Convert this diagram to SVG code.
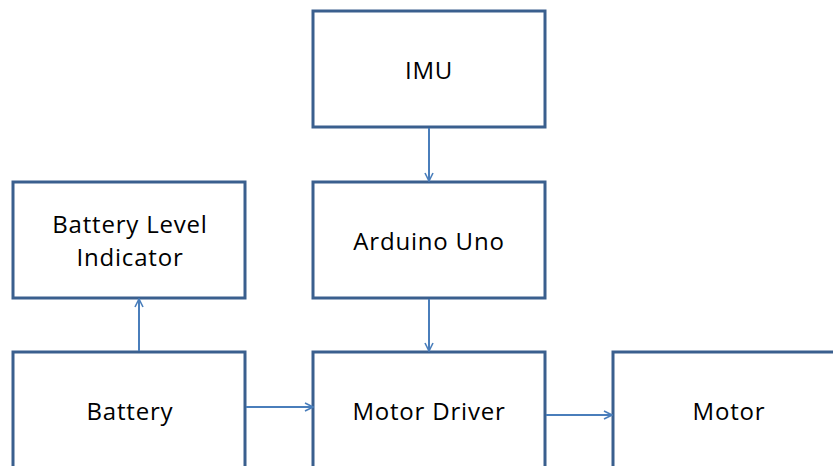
<svg xmlns="http://www.w3.org/2000/svg" width="833" height="466" viewBox="0 0 833 466">
  <defs>
    <style>
      .box { fill: #ffffff; stroke: #3A5F8E; stroke-width: 3; }
      .label { font-family: "Open Sans", "Liberation Sans", sans-serif; font-size: 24px; letter-spacing: 0.8px; fill: #000000; text-anchor: middle; }
      .wire { fill: none; stroke: #4A7EBB; stroke-width: 2; marker-end: url(#open-arrow); }
    </style>
    <marker id="open-arrow" viewBox="0 0 10 10" refX="9" refY="5" markerWidth="10" markerHeight="10" markerUnits="userSpaceOnUse" orient="auto">
      <path d="M1,1 L9,5 L1,9" fill="none" stroke="#4A7EBB" stroke-width="1.6"/>
    </marker>
  </defs>
  <rect width="833" height="466" fill="#ffffff"/>

  <g id="imu">
    <rect class="box" x="313" y="11" width="232" height="116"/>
    <text class="label" x="429" y="79">IMU</text>
  </g>
  <g id="arduino-uno">
    <rect class="box" x="313" y="182" width="232" height="116"/>
    <text class="label" x="429" y="250">Arduino Uno</text>
  </g>
  <g id="battery-level-indicator">
    <rect class="box" x="13" y="182" width="232" height="116"/>
    <text class="label" x="130" y="233">Battery Level</text>
    <text class="label" x="130" y="266">Indicator</text>
  </g>
  <g id="battery">
    <rect class="box" x="13" y="352" width="232" height="130"/>
    <text class="label" x="130" y="420">Battery</text>
  </g>
  <g id="motor-driver">
    <rect class="box" x="313" y="352" width="232" height="130"/>
    <text class="label" x="429" y="420">Motor Driver</text>
  </g>
  <g id="motor">
    <rect class="box" x="613" y="352" width="240" height="130"/>
    <text class="label" x="729" y="420">Motor</text>
  </g>

  <g id="connectors">
    <line class="wire" x1="429" y1="128" x2="429" y2="181"/>
    <line class="wire" x1="429" y1="299" x2="429" y2="351"/>
    <line class="wire" x1="139" y1="351" x2="139" y2="299"/>
    <line class="wire" x1="246" y1="407" x2="313" y2="407"/>
    <line class="wire" x1="546" y1="415" x2="612" y2="415"/>
  </g>
</svg>
